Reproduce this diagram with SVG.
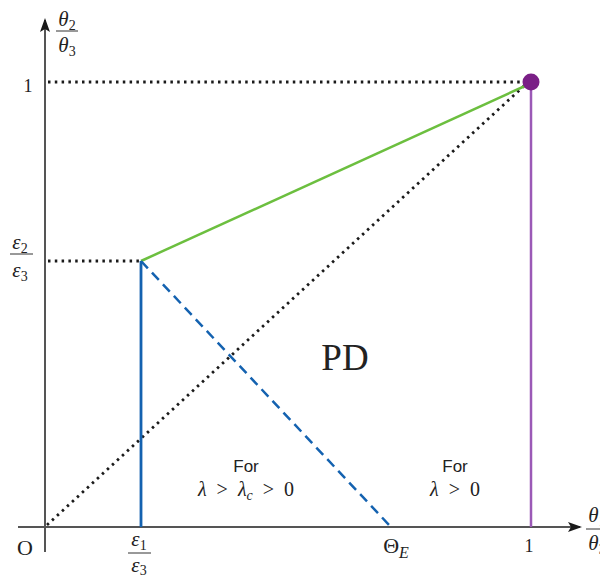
<svg xmlns="http://www.w3.org/2000/svg" width="600" height="578" viewBox="0 0 600 578">
<defs>
<marker id="arr" markerWidth="14" markerHeight="10" refX="12" refY="5" orient="auto" markerUnits="userSpaceOnUse">
<path d="M0,0 L14,5 L0,10 L3,5 Z" fill="#1a1a1a"/>
</marker>
<style>
.ax{stroke:#555;stroke-width:2;fill:none}
.dot{stroke:#1a1a1a;stroke-width:2.8;stroke-dasharray:2.5 4.3;fill:none}
.m{font-family:"Liberation Serif",serif;fill:#222}
.mi{font-family:"Liberation Serif",serif;font-style:italic;fill:#222}
.s{font-family:"Liberation Sans",sans-serif;fill:#222}
.fr{stroke:#333;stroke-width:1}
</style>
</defs>
<rect width="600" height="578" fill="#fff"/>
<g id="connectors">
<line class="ax" x1="18" y1="527" x2="580" y2="527" marker-end="url(#arr)"/>
<line class="ax" x1="45" y1="552" x2="45" y2="20" marker-end="url(#arr)"/>
<line class="dot" x1="48" y1="82" x2="523" y2="82"/>
<line class="dot" x1="48" y1="261" x2="140" y2="261"/>
<line class="dot" x1="47" y1="525" x2="525" y2="85"/>
<line x1="141" y1="261" x2="525" y2="86" stroke="#6cbf3f" stroke-width="2.5"/>
<line x1="141" y1="261" x2="141" y2="527" stroke="#1462b0" stroke-width="2.8"/>
<line x1="141" y1="261" x2="391" y2="527" stroke="#1462b0" stroke-width="2.5" stroke-dasharray="10 6"/>
<line x1="531" y1="82" x2="531" y2="527" stroke="#9b59b6" stroke-width="2.5"/>
</g>
<g id="point">
<circle cx="531" cy="82" r="8.5" fill="#7a1f86"/>
</g>
<g id="labels">
<text class="mi" x="67" y="26" font-size="21" text-anchor="middle">θ<tspan font-size="14" dy="4" font-style="normal">2</tspan></text>
<line class="fr" x1="56" y1="31" x2="78" y2="31"/>
<text class="mi" x="67" y="52" font-size="21" text-anchor="middle">θ<tspan font-size="14" dy="4" font-style="normal">3</tspan></text>
<text class="m" x="28" y="92" font-size="18" text-anchor="middle">1</text>
<text class="mi" x="20" y="249" font-size="21" text-anchor="middle">ε<tspan font-size="14" dy="4" font-style="normal">2</tspan></text>
<line class="fr" x1="10" y1="254" x2="33" y2="254"/>
<text class="mi" x="20" y="277" font-size="21" text-anchor="middle">ε<tspan font-size="14" dy="4" font-style="normal">3</tspan></text>
<text class="m" x="25" y="555" font-size="22" text-anchor="middle">O</text>
<text class="mi" x="139" y="546" font-size="21" text-anchor="middle">ε<tspan font-size="14" dy="4" font-style="normal">1</tspan></text>
<line class="fr" x1="128" y1="553" x2="151" y2="553"/>
<text class="mi" x="139" y="572" font-size="21" text-anchor="middle">ε<tspan font-size="14" dy="3" font-style="normal">3</tspan></text>
<text class="m" x="396" y="553" font-size="22" text-anchor="middle">Θ<tspan class="mi" font-size="16" dy="5">E</tspan></text>
<text class="m" x="529" y="552" font-size="18" text-anchor="middle">1</text>
<text class="mi" x="597" y="522" font-size="21" text-anchor="middle">θ<tspan font-size="14" dy="4" font-style="normal">1</tspan></text>
<line class="fr" x1="586" y1="529" x2="608" y2="529"/>
<text class="mi" x="597" y="550" font-size="21" text-anchor="middle">θ<tspan font-size="14" dy="4" font-style="normal">3</tspan></text>
<text class="m" x="345" y="370" font-size="37" text-anchor="middle">PD</text>
<text class="s" x="246" y="472" font-size="17" text-anchor="middle">For</text>
<text class="m" x="246" y="496" font-size="20" text-anchor="middle" xml:space="preserve"><tspan font-style="italic">λ</tspan>  &gt;  <tspan font-style="italic">λ</tspan><tspan font-style="italic" font-size="14" dy="4">c</tspan><tspan dy="-4">  &gt;  0</tspan></text>
<text class="s" x="455" y="472" font-size="17" text-anchor="middle">For</text>
<text class="m" x="455" y="496" font-size="20" text-anchor="middle" xml:space="preserve"><tspan font-style="italic">λ</tspan>  &gt;  0</text>
</g>
</svg>
